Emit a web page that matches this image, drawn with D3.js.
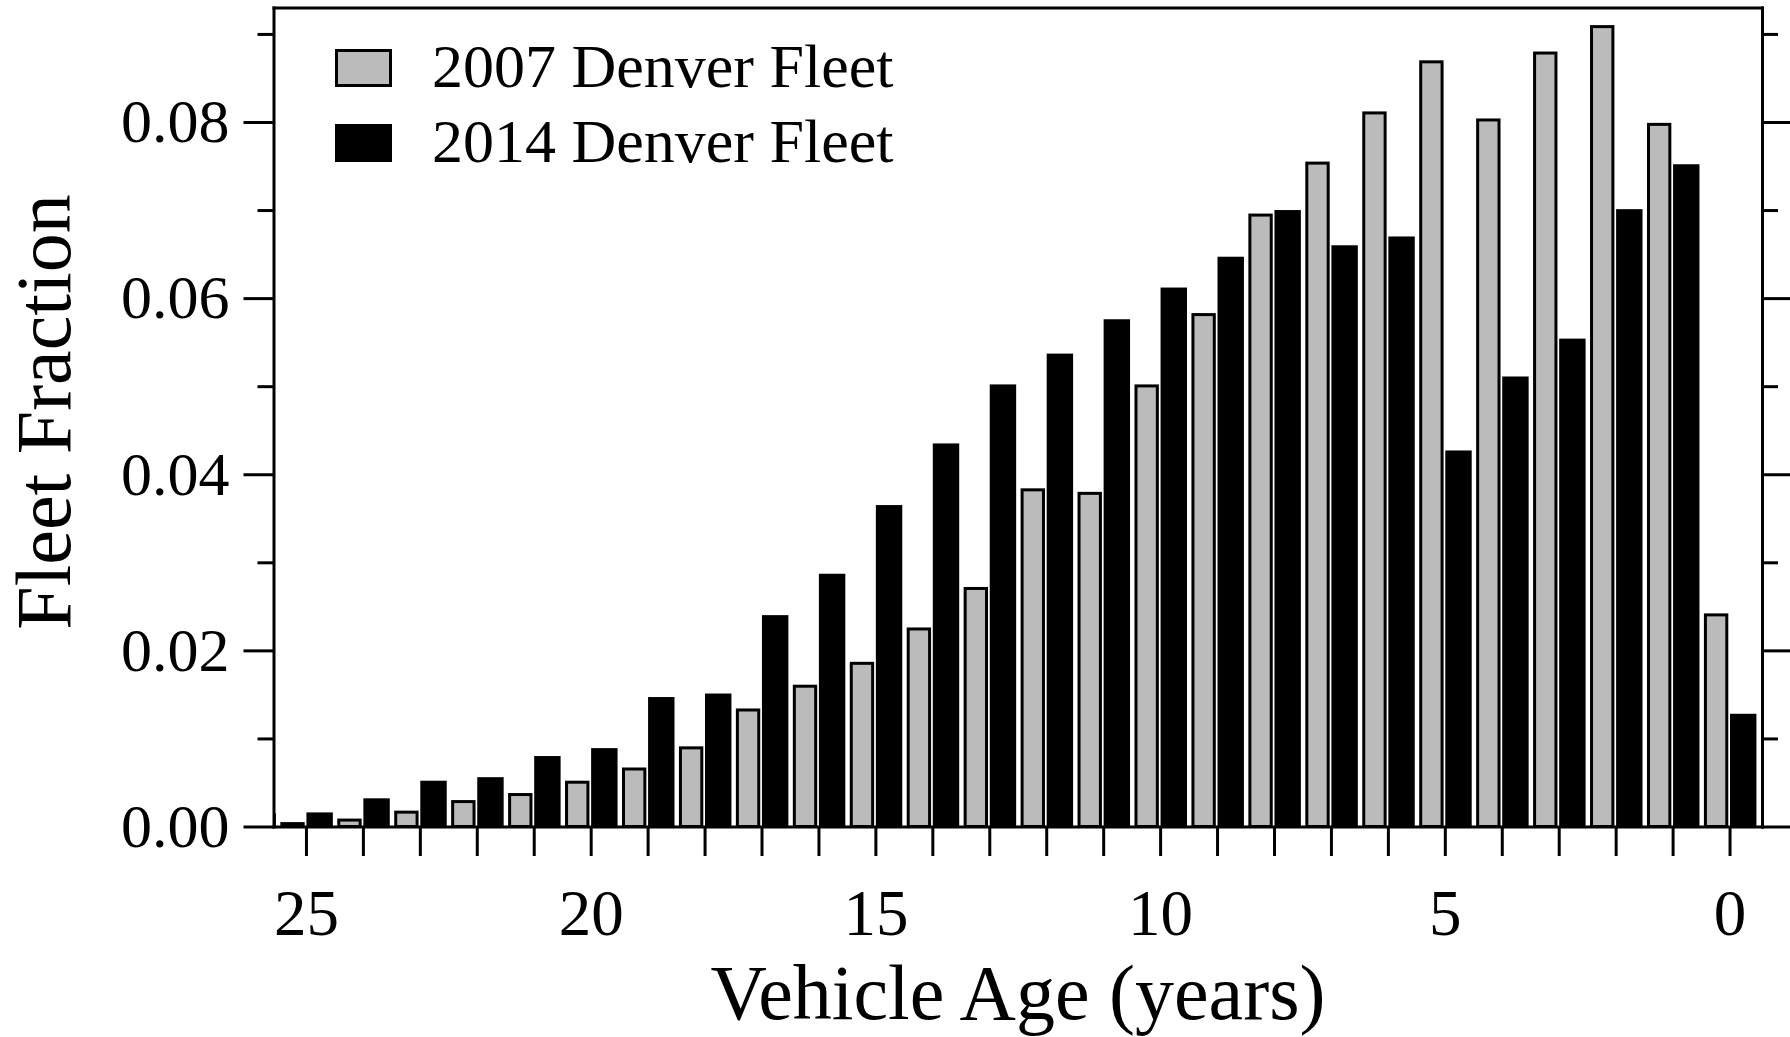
<!DOCTYPE html>
<html>
<head>
<meta charset="utf-8">
<script src="https://cdn.jsdelivr.net/npm/d3@7"></script>
<style>
  body { margin: 0; background: #fff; }
  svg { display: block; font-family: "Liberation Serif", "Times New Roman", serif; }
  .axis path, .axis line { stroke: #000; stroke-width: 3; }
  .axis path { stroke-linecap: square; }
  .axis text { fill: #000; font-family: "Liberation Serif", "Times New Roman", serif; }
</style>
</head>
<body>
<div id="chart"></div>
<script>
// Vehicle age (years) of each bar pair, oldest first
let ages = [25, 24, 23, 22, 21, 20, 19, 18, 17, 16, 15, 14, 13, 12, 11, 10, 9, 8, 7, 6, 5, 4, 3, 2, 1, 0]
// Fleet fraction of the 2007 Denver fleet (gray bars)
let fleet2007 = [0.0005, 0.0009, 0.0018, 0.0030, 0.0038, 0.0052, 0.0067, 0.0091, 0.0134, 0.0161,
                 0.0187, 0.0226, 0.0272, 0.0384, 0.0380, 0.0502, 0.0583, 0.0696, 0.0755, 0.0812,
                 0.0870, 0.0804, 0.0880, 0.0910, 0.0799, 0.0242]
// Fleet fraction of the 2014 Denver fleet (black bars), age 26 is cut by the axis
let ages2014 = [26, 25, 24, 23, 22, 21, 20, 19, 18, 17, 16, 15, 14, 13, 12, 11, 10, 9, 8, 7, 6, 5, 4, 3, 2, 1, 0]
let fleet2014 = [0.0015, 0.0016, 0.0032, 0.0052, 0.0056, 0.0080, 0.0089, 0.0147, 0.0151, 0.0240,
                 0.0287, 0.0365, 0.0435, 0.0502, 0.0537, 0.0576, 0.0612, 0.0647, 0.0700, 0.0660,
                 0.0670, 0.0427, 0.0511, 0.0554, 0.0701, 0.0752, 0.0128]

// Axis ticks and labels
let yTicks = [0, 0.02, 0.04, 0.06, 0.08]
let yMinorTicks = [0.01, 0.03, 0.05, 0.07, 0.09]
let xTickLabels = [25, 20, 15, 10, 5, 0]
let seriesNames = ["2007 Denver Fleet", "2014 Denver Fleet"]
let seriesColors = ["#bbbbbb", "#000000"]

makeGraph()

function makeGraph() {

    let width = 1790
    let height = 1037
    let left = 273.5, right = 1762, top = 7.5, bottom = 826.5

    const svg = d3.select("#chart")
                .append("svg")
                .attr("width", width)
                .attr("height", height)

    // Age runs backwards: oldest on the left
    let x = d3.scaleLinear()
              .domain([25.57, -0.57])
              .range([left, right])

    let y = d3.scaleLinear()
              .domain([0, 0.093])
              .range([bottom, top])

    svg.append("clipPath")
       .attr("id", "plotClip")
       .append("rect")
       .attr("x", left)
       .attr("y", top)
       .attr("width", right - left)
       .attr("height", bottom - top)

    let bars = svg.append("g").attr("clip-path", "url(#plotClip)")

    // 2014 bars sit just right of the age tick
    bars.selectAll(".bar2014")
        .data(fleet2014)
        .enter()
        .append("rect")
        .attr("class", "bar2014")
        .attr("x", (d, i) => x(ages2014[i] - 0.008))
        .attr("width", (d, i) => x(ages2014[i] - 0.472) - x(ages2014[i] - 0.008))
        .attr("y", d => y(d))
        .attr("height", d => y(0) - y(d))
        .attr("fill", seriesColors[1])

    // 2007 bars sit just left of the age tick, with a black outline
    bars.selectAll(".bar2007")
        .data(fleet2007)
        .enter()
        .append("rect")
        .attr("class", "bar2007")
        .attr("x", (d, i) => x(ages[i] + 0.45) + 1.5)
        .attr("width", (d, i) => x(ages[i] + 0.022) - x(ages[i] + 0.45) - 3)
        .attr("y", d => y(d) + 1.5)
        .attr("height", d => Math.max(0, y(0) - y(d) - 1.5))
        .attr("fill", seriesColors[0])
        .attr("stroke", "#000")
        .attr("stroke-width", 3)

    // Left axis: major ticks with labels, minor ticks without
    svg.append("g")
       .attr("class", "axis")
       .attr("transform", `translate(${left},0)`)
       .call(d3.axisLeft(y).tickValues(yTicks).tickSize(30).tickSizeOuter(0).tickPadding(14).tickFormat(d3.format(".2f")))
       .selectAll("text")
       .attr("font-size", 62)

    svg.append("g")
       .attr("class", "axis")
       .attr("transform", `translate(${left},0)`)
       .call(d3.axisLeft(y).tickValues(yMinorTicks).tickSize(16).tickFormat(""))
       .select(".domain").remove()

    // Right axis mirrors the ticks outward
    svg.append("g")
       .attr("class", "axis")
       .attr("transform", `translate(${right},0)`)
       .call(d3.axisRight(y).tickValues(yTicks).tickSize(30).tickSizeOuter(0).tickFormat(""))

    svg.append("g")
       .attr("class", "axis")
       .attr("transform", `translate(${right},0)`)
       .call(d3.axisRight(y).tickValues(yMinorTicks).tickSize(16).tickFormat(""))
       .select(".domain").remove()

    // Top frame line
    svg.append("g")
       .attr("class", "axis")
       .attr("transform", `translate(0,${top})`)
       .call(d3.axisTop(x).tickValues([]).tickSizeOuter(0))

    // Bottom axis: a tick every year, labels every five
    let xAxis = svg.append("g")
       .attr("class", "axis")
       .attr("transform", `translate(0,${bottom})`)
       .call(d3.axisBottom(x).tickValues(ages).tickSize(29.5).tickSizeOuter(0)
                .tickFormat(d => xTickLabels.includes(d) ? d : ""))

    xAxis.selectAll("text")
         .attr("font-size", 65)
         .attr("y", 108.5)
         .attr("dy", 0)

    // Axis titles
    svg.append("text")
       .attr("text-anchor", "middle")
       .attr("x", 1018)
       .attr("y", 1019)
       .attr("font-size", 78)
       .text("Vehicle Age (years)")

    svg.append("text")
       .attr("text-anchor", "middle")
       .attr("transform", "translate(70,412) rotate(-90)")
       .attr("font-size", 78)
       .text("Fleet Fraction")

    // Legend
    let legend = svg.append("g")
                    .attr("id", "legend")

    let rows = legend.selectAll("g")
                     .data(seriesNames)
                     .enter()
                     .append("g")
                     .attr("transform", (d, i) => `translate(335,${87 + i * 75})`)

    rows.append("rect")
        .attr("x", (d, i) => i == 0 ? 1.5 : 0)
        .attr("y", (d, i) => i == 0 ? -36.5 : -38)
        .attr("width", (d, i) => i == 0 ? 54 : 57)
        .attr("height", (d, i) => i == 0 ? 35 : 38)
        .attr("fill", (d, i) => seriesColors[i])
        .attr("stroke", (d, i) => i == 0 ? "#000" : "none")
        .attr("stroke-width", 3)

    rows.append("text")
        .attr("x", 97)
        .attr("y", 0)
        .attr("font-size", 62)
        .text(d => d)
}
</script>
</body>
</html>
